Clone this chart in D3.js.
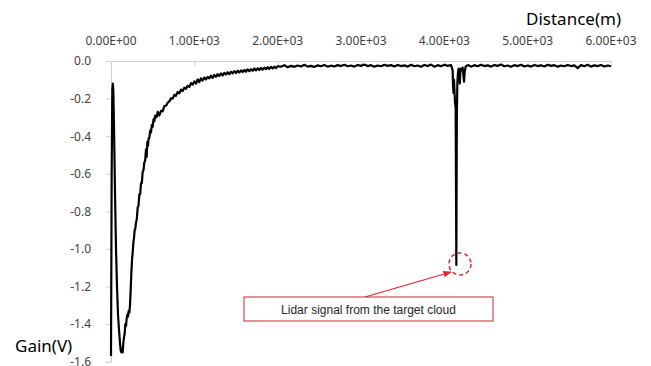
<!DOCTYPE html>
<html>
<head>
<meta charset="utf-8">
<script src="https://cdn.jsdelivr.net/npm/d3@7"></script>
<style>
  body { margin: 0; background: #fff; }
  svg { display: block; }
</style>
</head>
<body>
<svg id="chart" width="651" height="366"></svg>
<script>
// distance (m) and gain (V)
var distance = [
  0, 8, 16, 22, 28, 36, 48, 60, 72, 84, 96, 108, 116, 124, 132, 140, 148, 156, 164, 172,
  180, 188, 196, 204, 212, 220, 228, 236, 244, 252, 260, 268, 276, 284, 292, 300, 310, 320, 330, 340,
  350, 360, 370, 380, 390, 400, 410, 420, 428, 436, 444, 452, 460, 470, 480, 490, 500, 510, 520, 530,
  540, 550, 560, 570,
  580, 600, 620, 640, 660, 680, 700, 720, 740, 760, 780, 800, 820, 840, 860, 880, 900, 920, 940, 960,
  980, 1000, 1020, 1040, 1060, 1080, 1100, 1120, 1140, 1160, 1180, 1200, 1220, 1240, 1260, 1280, 1300, 1320, 1340, 1360,
  1380, 1400, 1420, 1440, 1460, 1480, 1500, 1520, 1540, 1560, 1580, 1600, 1620, 1640, 1660, 1680, 1700, 1720, 1740, 1760,
  1780, 1800, 1820, 1840, 1860, 1880, 1900, 1920, 1940, 1960, 1980, 2000,
  2040, 2080, 2120, 2160, 2200, 2240, 2280, 2320, 2360, 2400, 2440, 2480, 2520, 2560, 2600, 2640, 2680, 2720, 2760, 2800,
  2840, 2880, 2920, 2960, 3000, 3040, 3080, 3120, 3160, 3200, 3240, 3280, 3320, 3360, 3400, 3440, 3480, 3520, 3560, 3600,
  3640, 3680, 3720, 3760, 3800, 3840, 3880, 3920, 3960, 4000, 4040, 4080,
  4100, 4104, 4110, 4116, 4122, 4128, 4136, 4144, 4150, 4156, 4164, 4172, 4180, 4186, 4192, 4200, 4210, 4220, 4228, 4236,
  4244, 4256, 4270, 4290,
  4320, 4360, 4400, 4440, 4480, 4520, 4560, 4600, 4640, 4680, 4720, 4760, 4800, 4840, 4880, 4920, 4960, 5000, 5040, 5080,
  5120, 5160, 5200, 5240, 5280, 5320, 5360, 5400, 5440, 5480, 5520, 5560, 5600, 5640, 5680, 5720, 5760, 5800, 5840, 5880,
  5920, 5960, 6000
];
var gain = [
  -1.57, -0.6, -0.15, -0.12, -0.16, -0.35, -0.7, -1.0, -1.2, -1.35, -1.43, -1.5, -1.54, -1.55, -1.53, -1.55, -1.5, -1.47, -1.45, -1.4,
  -1.41, -1.37, -1.35, -1.36, -1.33, -1.34, -1.3, -1.22, -1.13, -1.06, -1.02, -0.97, -0.94, -0.9, -0.89, -0.86, -0.84, -0.78, -0.77, -0.71,
  -0.71, -0.65, -0.65, -0.59, -0.58, -0.54, -0.53, -0.47, -0.51, -0.43, -0.45, -0.41, -0.41, -0.37, -0.38, -0.34, -0.35, -0.31, -0.32, -0.29,
  -0.3, -0.295, -0.27, -0.28,
  -0.29, -0.265, -0.268, -0.24, -0.238, -0.222, -0.215, -0.198, -0.2, -0.18, -0.185, -0.165, -0.172, -0.152, -0.16, -0.142, -0.148, -0.132, -0.138, -0.118,
  -0.126, -0.108, -0.12, -0.098, -0.112, -0.092, -0.104, -0.088, -0.098, -0.085, -0.092, -0.078, -0.09, -0.074, -0.084, -0.07, -0.08, -0.066, -0.077, -0.063,
  -0.072, -0.06, -0.07, -0.058, -0.066, -0.054, -0.064, -0.052, -0.061, -0.05, -0.059, -0.047, -0.057, -0.045, -0.054, -0.044, -0.052, -0.04, -0.05, -0.039,
  -0.048, -0.037, -0.046, -0.035, -0.044, -0.033, -0.042, -0.031, -0.04, -0.03, -0.038, -0.028,
  -0.03, -0.022, -0.033, -0.026, -0.031, -0.024, -0.029, -0.02, -0.03, -0.026, -0.032, -0.023, -0.028, -0.021, -0.03, -0.025, -0.029, -0.022, -0.027, -0.02,
  -0.028, -0.024, -0.03, -0.021, -0.026, -0.019, -0.027, -0.022, -0.03, -0.024, -0.028, -0.02, -0.026, -0.022, -0.029, -0.021, -0.027, -0.023, -0.03, -0.02,
  -0.028, -0.024, -0.031, -0.021, -0.027, -0.019, -0.03, -0.022, -0.028, -0.02, -0.026, -0.021,
  -0.05, -0.13, -0.17, -0.1, -0.16, -0.22, -0.25, -1.085, -0.3, -0.12, -0.06, -0.04, -0.09, -0.12, -0.06, -0.04, -0.05, -0.035, -0.07, -0.11,
  -0.06, -0.03, -0.025, -0.022,
  -0.03, -0.022, -0.028, -0.02, -0.027, -0.023, -0.03, -0.021, -0.026, -0.019, -0.028, -0.024, -0.031, -0.022, -0.027, -0.02, -0.029, -0.024, -0.03, -0.021,
  -0.027, -0.023, -0.029, -0.02, -0.026, -0.022, -0.03, -0.024, -0.028, -0.021, -0.027, -0.023, -0.038, -0.022, -0.028, -0.02, -0.03, -0.023, -0.027, -0.021,
  -0.029, -0.024, -0.028
];
var x_ticks = [0, 1000, 2000, 3000, 4000, 5000, 6000];
var y_ticks = [0, -0.2, -0.4, -0.6, -0.8, -1.0, -1.2, -1.4, -1.6];

// annotation: the spike from the target cloud
var target_point = {distance: 4188, gain: -1.08};
var note_text = "Lidar signal from the target cloud";

var svg = d3.select("#chart");
var x = d3.scaleLinear().domain([0, 6000]).range([111, 611]);
var y = d3.scaleLinear().domain([0, -1.6]).range([61, 361.7]);

function sci(d) {
  var s = d.toExponential(2).toUpperCase();
  var parts = s.split("E");
  var exp = parseInt(parts[1], 10);
  var sign = exp < 0 ? "-" : "+";
  exp = Math.abs(exp);
  return parts[0] + "E" + sign + (exp < 10 ? "0" + exp : exp);
}

function fixed1(d) {
  var s = d.toFixed(1);
  if (s === "-0.0") s = "0.0";
  return s;
}

// top axis
var xAxis = d3.axisBottom(x).tickValues(x_ticks).tickSize(5).tickFormat("");
var gx = svg.append("g").attr("transform", "translate(0,61)").call(xAxis);
gx.select(".domain").attr("stroke", "#d0d0d0");
gx.selectAll(".tick line").attr("stroke", "#d0d0d0");

svg.selectAll(".xlabel")
    .data(x_ticks)
  .enter().append("text")
    .attr("class", "xlabel")
    .attr("x", function(d) { return x(d); })
    .attr("y", 45)
    .attr("text-anchor", "middle")
    .style("font-family", "Noto Sans")
    .style("font-size", "12px")
    .style("fill", "#404040")
    .text(sci);

// left axis
var yAxis = d3.axisLeft(y).tickValues(y_ticks).tickSize(5).tickPadding(15).tickFormat(fixed1);
var gy = svg.append("g").attr("transform", "translate(111,0)").call(yAxis);
gy.select(".domain").attr("stroke", "#d0d0d0");
gy.selectAll(".tick line").attr("stroke", "#d0d0d0");
gy.selectAll(".tick text")
    .style("font-family", "Noto Sans")
    .style("font-size", "12px")
    .style("fill", "#404040");

// the trace
var line = d3.line()
    .x(function(d, i) { return x(distance[i]); })
    .y(function(d) { return y(d); });

svg.append("path")
    .datum(gain)
    .attr("d", line)
    .attr("fill", "none")
    .attr("stroke", "#000")
    .attr("stroke-width", 2.2)
    .attr("stroke-linejoin", "round");

// axis titles
svg.append("text")
    .attr("x", 621)
    .attr("y", 25)
    .attr("text-anchor", "end")
    .style("font-family", "Noto Sans")
    .style("font-size", "17px")
    .text("Distance(m)");

svg.append("text")
    .attr("x", 15)
    .attr("y", 352)
    .style("font-family", "Noto Sans")
    .style("font-size", "17px")
    .text("Gain(V)");

// annotation
var cx = x(target_point.distance), cy = y(target_point.gain);

svg.append("defs").append("marker")
    .attr("id", "arrow")
    .attr("viewBox", "0 0 10 10")
    .attr("refX", 9)
    .attr("refY", 5)
    .attr("markerWidth", 7)
    .attr("markerHeight", 7)
    .attr("orient", "auto")
  .append("path")
    .attr("d", "M0,1L10,5L0,9z")
    .attr("fill", "#e0262b");

svg.append("circle")
    .attr("cx", cx)
    .attr("cy", cy)
    .attr("r", 11)
    .attr("fill", "none")
    .attr("stroke", "#e0262b")
    .attr("stroke-width", 1.5)
    .attr("stroke-dasharray", "4,3");

svg.append("line")
    .attr("x1", 365)
    .attr("y1", 297)
    .attr("x2", cx - 9)
    .attr("y2", cy + 8)
    .attr("stroke", "#e0262b")
    .attr("stroke-width", 1.2)
    .attr("marker-end", "url(#arrow)");

svg.append("rect")
    .attr("x", 244)
    .attr("y", 297)
    .attr("width", 249)
    .attr("height", 24)
    .attr("fill", "#fff")
    .attr("stroke", "#c8282d")
    .attr("stroke-width", 1);

svg.append("text")
    .attr("x", 368.5)
    .attr("y", 314)
    .attr("text-anchor", "middle")
    .style("font-family", "Liberation Sans")
    .style("font-size", "12px")
    .style("fill", "#262626")
    .text(note_text);
</script>
</body>
</html>
